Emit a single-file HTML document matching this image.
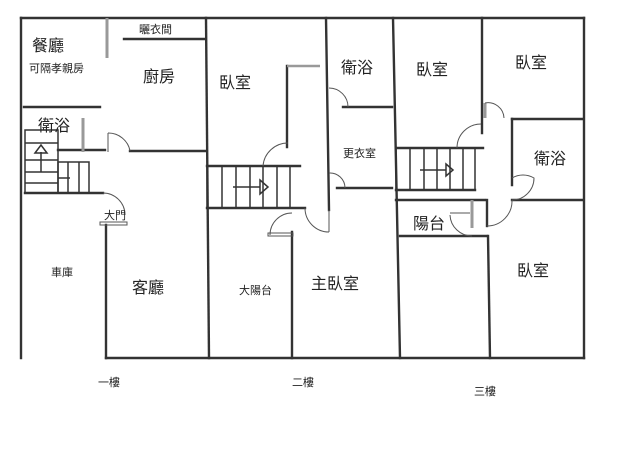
<!DOCTYPE html>
<html><head><meta charset="utf-8"><style>
html,body{margin:0;padding:0;background:#fff;}
svg{display:block}
text{font-family:"Liberation Sans","Noto Sans CJK TC",sans-serif;fill:#222}
</style></head><body>
<svg width="640" height="461" viewBox="0 0 640 461">
<g stroke="#333" stroke-width="2.4" fill="none" stroke-linecap="square">
<!-- outer -->
<line x1="21" y1="18" x2="584" y2="18"/>
<line x1="21" y1="18" x2="21" y2="358"/>
<line x1="584" y1="18" x2="584" y2="358"/>
<line x1="106" y1="358" x2="584" y2="358"/>
<line x1="206" y1="18" x2="209" y2="358"/>
<!-- 1F -->
<line x1="124" y1="39" x2="205" y2="39"/>
<line x1="24" y1="107" x2="100" y2="107"/>
<line x1="58" y1="150" x2="105" y2="150"/>
<line x1="130" y1="151" x2="205" y2="151"/>
<line x1="25" y1="193" x2="103" y2="193"/>
<line x1="106" y1="225" x2="106" y2="358"/>
<!-- 2F -->
<line x1="207" y1="166" x2="300" y2="166"/>
<line x1="207" y1="208" x2="305" y2="208"/>
<line x1="287" y1="66" x2="287" y2="147"/>
<line x1="292" y1="232" x2="292" y2="358"/>
<line x1="326" y1="18" x2="329" y2="210"/>
<line x1="393" y1="18" x2="400" y2="358"/>
<line x1="343" y1="107" x2="392" y2="107"/>
<line x1="337" y1="188" x2="392" y2="188"/>
<!-- 3F -->
<line x1="482" y1="18" x2="482" y2="133"/>
<line x1="396" y1="148" x2="483" y2="148"/>
<line x1="396" y1="190" x2="475" y2="190"/>
<line x1="512" y1="119" x2="583" y2="119"/>
<line x1="512" y1="119" x2="512" y2="185"/>
<line x1="512" y1="200" x2="583" y2="200"/>
<line x1="396" y1="200" x2="485" y2="200"/>
<line x1="487" y1="200" x2="487" y2="226"/>
<line x1="400" y1="236" x2="487" y2="236"/>
<line x1="488" y1="236" x2="490" y2="358"/>
</g>
<g stroke="#999" stroke-width="3" fill="none">
<line x1="107" y1="18" x2="107" y2="58"/>
<line x1="83" y1="118" x2="83" y2="152"/>
<line x1="287" y1="66" x2="320" y2="66" stroke-width="2.5"/>
<line x1="485" y1="103" x2="485" y2="118"/>
<line x1="472" y1="200" x2="472" y2="228"/>
</g>
<!-- stairs -->
<g stroke="#333" stroke-width="1.5" fill="none">
<rect x="25" y="130" width="33" height="63"/>
<line x1="25" y1="143" x2="58" y2="143"/><line x1="25" y1="160" x2="58" y2="160"/>
<line x1="25" y1="172" x2="58" y2="172"/><line x1="25" y1="183" x2="58" y2="183"/>
<rect x="58" y="162" width="31" height="31"/>
<line x1="68" y1="162" x2="68" y2="193"/><line x1="79" y1="162" x2="79" y2="193"/>
<line x1="58" y1="178" x2="70" y2="178"/>
<line x1="41" y1="172" x2="41" y2="152"/><path d="M35 153 L41 145 L47 153 Z"/>
<line x1="207" y1="166" x2="207" y2="208"/>
<line x1="222" y1="166" x2="222" y2="208"/><line x1="236" y1="166" x2="236" y2="208"/>
<line x1="250" y1="166" x2="250" y2="208"/><line x1="263" y1="166" x2="263" y2="208"/>
<line x1="277" y1="166" x2="277" y2="208"/><line x1="290" y1="166" x2="290" y2="208"/>
<line x1="233" y1="187" x2="260" y2="187"/><path d="M260 180 L268 187 L260 194 Z"/>
<line x1="396" y1="148" x2="396" y2="190"/>
<line x1="410" y1="148" x2="410" y2="190"/><line x1="424" y1="148" x2="424" y2="190"/>
<line x1="437" y1="148" x2="437" y2="190"/><line x1="450" y1="148" x2="450" y2="190"/>
<line x1="463" y1="148" x2="463" y2="190"/><line x1="475" y1="148" x2="475" y2="190"/>
<line x1="420" y1="170" x2="446" y2="170"/><path d="M446 164 L453 170 L446 176 Z"/>
</g>
<!-- doors -->
<g stroke="#555" stroke-width="1" fill="none">
<line x1="108" y1="133" x2="108" y2="152"/><path d="M108 133 A22 22 0 0 1 130 151"/>
<path d="M103 193 A22 22 0 0 1 125 215"/>
<rect x="100" y="222" width="27" height="3"/>
<path d="M263 166 A25 25 0 0 1 288 143"/>
<path d="M305 208 A24 24 0 0 0 329 232"/><line x1="329" y1="210" x2="329" y2="232"/>
<path d="M270 235 A22 22 0 0 1 292 213"/><rect x="268" y="233" width="25" height="3"/>
<path d="M329 88 A19 19 0 0 1 348 107"/>
<path d="M329 173 A15 15 0 0 1 345 188"/>
<path d="M485 103 A16 16 0 0 1 504 118"/>
<path d="M457 148 A24 24 0 0 1 481 124"/>
<path d="M512 178 A22 22 0 0 1 534 178 A22 22 0 0 1 512 200"/>
<path d="M487 226 A25 25 0 0 0 512 200"/>
<path d="M450 215 A22 22 0 0 0 472 236"/>
<line x1="450" y1="213" x2="470" y2="213" stroke="#aaa" stroke-width="2"/>
</g>
<!-- labels -->
<g font-size="16">
<text x="32" y="51">餐廳</text>
<text x="143" y="82">廚房</text>
<text x="219" y="88">臥室</text>
<text x="38" y="131">衛浴</text>
<text x="132" y="293">客廳</text>
<text x="311" y="289">主臥室</text>
<text x="341" y="73">衛浴</text>
<text x="416" y="75">臥室</text>
<text x="515" y="68">臥室</text>
<text x="534" y="164">衛浴</text>
<text x="413" y="229">陽台</text>
<text x="517" y="276">臥室</text>
</g>
<g font-size="11">
<text x="29" y="72">可隔孝親房</text>
<text x="139" y="33">曬衣間</text>
<text x="104" y="219">大門</text>
<text x="51" y="276">車庫</text>
<text x="239" y="294">大陽台</text>
<text x="343" y="157">更衣室</text>
<text x="98" y="386">一樓</text>
<text x="292" y="386">二樓</text>
<text x="474" y="395">三樓</text>
</g>
</svg>
</body></html>
